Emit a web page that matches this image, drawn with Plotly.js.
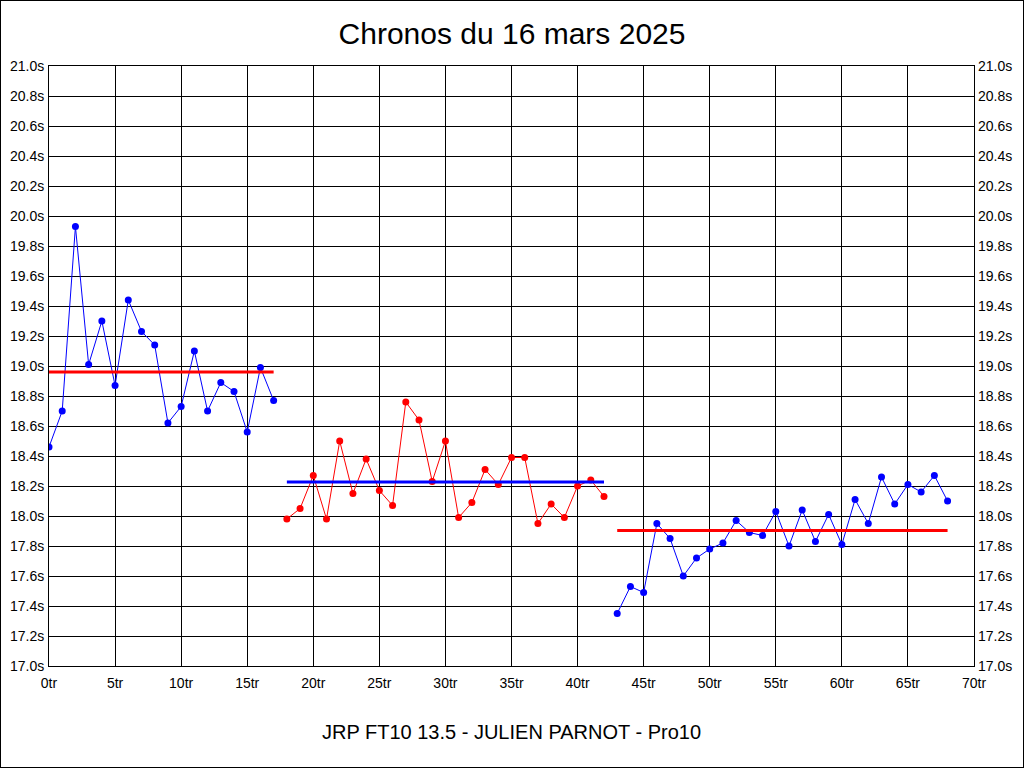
<!DOCTYPE html>
<html>
<head>
<meta charset="utf-8">
<script src="https://cdn.plot.ly/plotly-3.0.1.min.js"></script>
<style>
  body { margin: 0; background: #fff; }
  #chart { width: 1022px; height: 766px; border: 1px solid #000; }
</style>
</head>
<body>
<div id="chart"></div>
<script>
// lap times, one array per run
var laps1 = [0, 1, 2, 3, 4, 5, 6, 7, 8, 9, 10, 11, 12, 13, 14, 15, 16, 17];
var times1 = [18.46, 18.70, 19.93, 19.01, 19.30, 18.87, 19.44, 19.23, 19.14, 18.62,
              18.73, 19.10, 18.70, 18.89, 18.83, 18.56, 18.99, 18.77];

var laps2 = [18, 19, 20, 21, 22, 23, 24, 25, 26, 27, 28, 29, 30, 31, 32, 33, 34, 35,
             36, 37, 38, 39, 40, 41, 42];
var times2 = [17.98, 18.05, 18.27, 17.98, 18.50, 18.15, 18.38, 18.17, 18.07, 18.76,
              18.64, 18.23, 18.50, 17.99, 18.09, 18.31, 18.21, 18.39, 18.39, 17.95,
              18.08, 17.99, 18.20, 18.24, 18.13];

var laps3 = [43, 44, 45, 46, 47, 48, 49, 50, 51, 52, 53, 54, 55, 56, 57, 58, 59, 60,
             61, 62, 63, 64, 65, 66, 67, 68];
var times3 = [17.35, 17.53, 17.49, 17.95, 17.85, 17.60, 17.72, 17.78, 17.82, 17.97,
              17.89, 17.87, 18.03, 17.80, 18.04, 17.83, 18.01, 17.81, 18.11, 17.95,
              18.26, 18.08, 18.21, 18.16, 18.27, 18.10];

var runColors = ['#0000ff', '#ff0000', '#0000ff'];
var avgColors = ['#ff0000', '#0000ff', '#ff0000'];

function mean(arr){
    var s = 0;
    for (var i = 0; i < arr.length; i++) s += arr[i];
    return s / arr.length;
}

var runs = [[laps1, times1], [laps2, times2], [laps3, times3]];
var data = [];

runs.forEach(function(run, i){
    var laps = run[0], times = run[1];
    data.push({
        x: laps, y: times,
        type: 'scatter', mode: 'lines+markers',
        line: {color: runColors[i], width: 1},
        marker: {color: runColors[i], size: 7},
        hoverinfo: 'x+y'
    });
    var avg = mean(times);
    data.push({
        x: [laps[0], laps[laps.length - 1]], y: [avg, avg],
        type: 'scatter', mode: 'lines',
        line: {color: avgColors[i], width: 3},
        hoverinfo: 'y'
    });
});

// dummy trace so the right hand axis gets drawn
data.push({x: [0], y: [21], yaxis: 'y2', mode: 'markers',
           marker: {opacity: 0}, hoverinfo: 'skip'});

var tickFont = {family: 'Liberation Sans, Arial, sans-serif', size: 14, color: '#000'};

var layout = {
    width: 1022, height: 766,
    paper_bgcolor: '#fff', plot_bgcolor: '#fff',
    showlegend: false,
    margin: {l: 48, r: 49, t: 65, b: 101, pad: 0},
    title: {
        text: 'Chronos du 16 mars 2025',
        font: {family: 'Liberation Sans, Arial, sans-serif', size: 30, color: '#000'},
        x: 0.5, xanchor: 'center', y: 0.958, yanchor: 'middle'
    },
    xaxis: {
        range: [0, 70], dtick: 5, tick0: 0, ticksuffix: 'tr',
        showgrid: true, gridcolor: '#000', gridwidth: 1,
        showline: true, linecolor: '#000', linewidth: 1, mirror: true,
        zeroline: false, ticks: '', ticklabelstandoff: 4,
        tickfont: tickFont, fixedrange: true
    },
    yaxis: {
        range: [17, 21], dtick: 0.2, tick0: 17, tickformat: '.1f', ticksuffix: 's',
        showgrid: true, gridcolor: '#000', gridwidth: 1,
        showline: true, linecolor: '#000', linewidth: 1, mirror: true,
        zeroline: false, ticks: '', ticklabelstandoff: 1,
        tickfont: tickFont, fixedrange: true
    },
    yaxis2: {
        overlaying: 'y', side: 'right',
        range: [17, 21], dtick: 0.2, tick0: 17, tickformat: '.1f', ticksuffix: 's',
        showgrid: false, zeroline: false, showline: false, ticks: '',
        ticklabelstandoff: 3, tickfont: tickFont, fixedrange: true
    },
    annotations: [{
        text: 'JRP FT10 13.5 - JULIEN PARNOT - Pro10',
        xref: 'paper', yref: 'paper', x: 0.5, y: -0.11,
        xanchor: 'center', yanchor: 'middle', showarrow: false,
        font: {family: 'Liberation Sans, Arial, sans-serif', size: 20, color: '#000'}
    }]
};

Plotly.newPlot('chart', data, layout, {displayModeBar: false, staticPlot: true});
</script>
</body>
</html>
